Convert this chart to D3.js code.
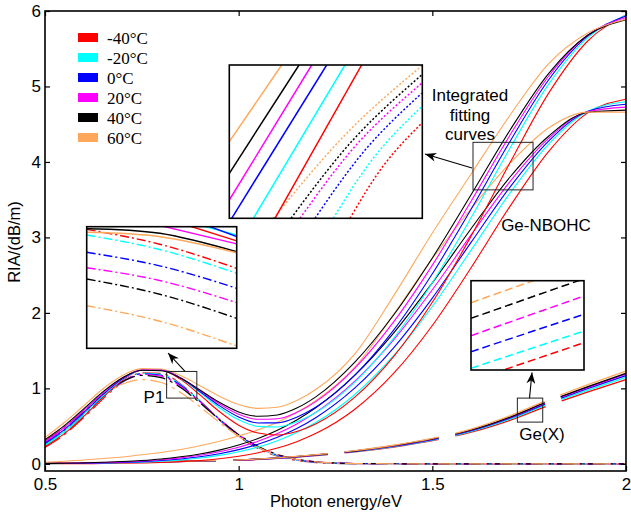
<!DOCTYPE html>
<html><head><meta charset="utf-8">
<script src="https://cdn.jsdelivr.net/npm/d3@7"></script>
<style>body{margin:0;background:#fff}svg{display:block}</style>
</head><body>
<script>
// ---------------- data ----------------
const temps  = ["-40°C","-20°C","0°C","20°C","40°C","60°C"];
const colors = ["#ff0000","#00ffff","#0000ff","#ff00ff","#000000","#ffa85c"];
const xTicks = [0.5, 1, 1.5, 2];
const yTicks = [0, 1, 2, 3, 4, 5, 6];

// integrated fitting curves (solid)
const sumX = [0.5,0.55,0.6,0.65,0.7,0.75,0.8,0.85,0.9,0.95,1.0,1.05,1.1,1.15,1.2,1.3,1.4,1.5,1.6,1.7,1.8,1.9,2.0];
const sumY = [
 [0.228,0.400,0.628,0.883,1.107,1.239,1.242,1.119,0.913,0.693,0.512,0.408,0.382,0.428,0.531,0.883,1.420,2.140,3.017,3.985,4.909,5.596,5.946],
 [0.251,0.428,0.656,0.904,1.119,1.245,1.248,1.135,0.945,0.744,0.583,0.496,0.489,0.556,0.683,1.083,1.662,2.400,3.261,4.177,5.027,5.641,5.944],
 [0.273,0.454,0.680,0.921,1.127,1.244,1.245,1.137,0.959,0.771,0.621,0.542,0.543,0.618,0.753,1.175,1.771,2.518,3.373,4.268,5.086,5.663,5.934],
 [0.298,0.482,0.707,0.941,1.137,1.246,1.244,1.139,0.971,0.796,0.657,0.590,0.598,0.682,0.827,1.267,1.880,2.633,3.479,4.351,5.135,5.675,5.914],
 [0.321,0.507,0.729,0.956,1.140,1.240,1.234,1.136,0.978,0.815,0.688,0.631,0.648,0.739,0.891,1.348,1.972,2.728,3.565,4.417,5.171,5.676,5.886],
 [0.350,0.548,0.770,0.995,1.170,1.262,1.256,1.170,1.036,0.896,0.786,0.735,0.750,0.839,0.988,1.458,2.226,3.058,3.841,4.616,5.301,5.706,5.890]
];
// Ge-NBOHC component (solid)
const nbohcY = [
 [0.001,0.001,0.002,0.004,0.007,0.011,0.018,0.029,0.044,0.067,0.100,0.146,0.209,0.294,0.404,0.723,1.197,1.833,2.598,3.408,4.137,4.647,4.830],
 [0.002,0.004,0.006,0.009,0.015,0.023,0.035,0.053,0.078,0.112,0.160,0.223,0.307,0.414,0.550,0.919,1.433,2.085,2.831,3.585,4.234,4.667,4.798],
 [0.003,0.005,0.008,0.012,0.019,0.029,0.044,0.065,0.094,0.134,0.188,0.259,0.352,0.469,0.615,1.006,1.537,2.196,2.934,3.663,4.277,4.668,4.764],
 [0.004,0.007,0.010,0.016,0.025,0.037,0.055,0.079,0.113,0.159,0.220,0.300,0.401,0.528,0.685,1.096,1.642,2.306,3.033,3.737,4.313,4.665,4.726],
 [0.005,0.008,0.013,0.020,0.030,0.044,0.064,0.093,0.131,0.182,0.249,0.336,0.445,0.581,0.746,1.174,1.732,2.398,3.115,3.797,4.341,4.656,4.686],
 [0.020,0.035,0.050,0.070,0.090,0.120,0.150,0.190,0.240,0.300,0.370,0.450,0.550,0.680,0.840,1.280,1.980,2.720,3.380,3.980,4.450,4.660,4.660]
];
// P1 component (dash-dot)
const p1X = [0.5,0.55,0.6,0.65,0.7,0.75,0.8,0.85,0.9,0.95,1.0,1.05,1.1,1.15,1.2,1.25,1.3,1.4,1.5,1.6,1.7,1.8,1.9,2.0];
const p1Y = [
 [0.218,0.388,0.613,0.863,1.081,1.206,1.198,1.059,0.834,0.584,0.364,0.202,0.100,0.044,0.017,0.006,0.002,0.001,0,0,0,0,0,0],
 [0.239,0.413,0.637,0.879,1.085,1.199,1.186,1.050,0.831,0.589,0.373,0.212,0.108,0.049,0.020,0.007,0.002,0.001,0,0,0,0,0,0],
 [0.260,0.437,0.658,0.892,1.088,1.192,1.174,1.040,0.828,0.593,0.382,0.221,0.115,0.054,0.023,0.009,0.003,0.001,0,0,0,0,0,0],
 [0.284,0.463,0.683,0.908,1.092,1.185,1.161,1.027,0.820,0.592,0.386,0.227,0.120,0.058,0.025,0.010,0.003,0.001,0,0,0,0,0,0],
 [0.306,0.487,0.702,0.919,1.090,1.172,1.142,1.010,0.809,0.588,0.387,0.231,0.125,0.061,0.027,0.011,0.004,0.001,0,0,0,0,0,0],
 [0.320,0.500,0.706,0.906,1.057,1.117,1.077,0.946,0.757,0.550,0.363,0.219,0.120,0.059,0.027,0.011,0.004,0.001,0,0,0,0,0,0]
];
// Ge(X) component (dashed)
const gexX = [0.5,0.6,0.7,0.8,0.9,1.0,1.1,1.2,1.3,1.4,1.5,1.6,1.7,1.8,1.9,2.0];
const gexY = [
 [0.009,0.013,0.019,0.026,0.035,0.048,0.073,0.110,0.158,0.223,0.307,0.419,0.577,0.772,0.949,1.116],
 [0.010,0.013,0.019,0.027,0.036,0.050,0.074,0.113,0.162,0.229,0.315,0.430,0.592,0.793,0.974,1.146],
 [0.010,0.014,0.020,0.027,0.037,0.051,0.076,0.115,0.166,0.234,0.322,0.439,0.605,0.809,0.995,1.170],
 [0.010,0.014,0.020,0.028,0.038,0.051,0.077,0.117,0.168,0.238,0.327,0.446,0.614,0.822,1.010,1.188],
 [0.010,0.014,0.020,0.028,0.038,0.052,0.078,0.118,0.170,0.240,0.330,0.450,0.620,0.830,1.020,1.200],
 [0.010,0.014,0.021,0.029,0.039,0.053,0.080,0.121,0.174,0.246,0.338,0.461,0.636,0.851,1.046,1.230]
];

// inset A (zoom of the "integrated fitting curves" box): [x(eV), RIA]
const insetADomainX = [1.605, 1.76], insetADomainY = [3.63, 4.26];
const insetASolid = [
 [[1.6417,3.63],[1.7113,4.26]],
 [[1.6243,3.63],[1.6979,4.26]],
 [[1.6069,3.63],[1.6832,4.26]],
 [[1.600,3.663],[1.6712,4.26]],
 [[1.600,3.775],[1.661,4.26]],
 [[1.600,3.908],[1.6471,4.26]]
];
const insetADotted = [
 [[1.7019,3.63],[1.7292,3.849],[1.7595,4.0205]],
 [[1.6885,3.63],[1.7220,3.886],[1.7595,4.0887]],
 [[1.6738,3.63],[1.7148,3.9148],[1.7595,4.1438]],
 [[1.6618,3.63],[1.7084,3.9395],[1.7595,4.1849]],
 [[1.6546,3.63],[1.7051,3.956],[1.7595,4.219]],
 [[1.6403,3.63],[1.6995,3.9806],[1.7595,4.256]]
];
// inset B (zoom of the P1 box)
const insetBDomainX = [0.814, 0.892], insetBDomainY = [0.871, 1.224];
const insetBDashDot = [
 [[0.814,1.2164],[0.853,1.1717],[0.892,1.1032]],
 [[0.814,1.1999],[0.853,1.1563],[0.892,1.0887]],
 [[0.814,1.1497],[0.853,1.109],[0.892,1.0452]],
 [[0.814,1.105],[0.853,1.0664],[0.892,1.0034]],
 [[0.814,1.0722],[0.853,1.0266],[0.892,0.9581]],
 [[0.814,0.9947],[0.853,0.9482],[0.892,0.8777]]
];
const insetBSolid = [
 [[0.864,1.232],[0.892,1.183]],
 [[0.871,1.231],[0.892,1.200]],
 [[0.874,1.233],[0.892,1.195]],
 [[0.848,1.233],[0.892,1.174]],
 [[0.814,1.2182],[0.8521,1.2048],[0.892,1.1514]],
 [[0.814,1.2077],[0.8521,1.195],[0.892,1.1485]]
];
// inset C (zoom of the Ge(X) box)
const insetCDomainX = [1.7195, 1.785], insetCDomainY = [0.553, 0.871];
const insetCDashed = [
 [[1.7195,0.514],[1.785,0.6502]],
 [[1.7195,0.5591],[1.785,0.6919]],
 [[1.7195,0.6182],[1.785,0.7514]],
 [[1.7195,0.6752],[1.785,0.8165]],
 [[1.7195,0.7371],[1.785,0.878]],
 [[1.7195,0.7927],[1.785,0.935]]
];

// ---------------- drawing ----------------
const W = 631, H = 516;
const FONT = "'Liberation Sans', Arial, Helvetica, sans-serif";
const svg = d3.select("body").append("svg").attr("width", W).attr("height", H)
  .style("font-family", FONT);

const x = d3.scaleLinear().domain([0.5, 2]).range([45, 626]);
const y = d3.scaleLinear().domain([-0.095, 6]).range([471, 11]);

const defs = svg.append("defs");
defs.append("clipPath").attr("id","plotClip").append("rect")
  .attr("x", 45).attr("y", 11).attr("width", 581).attr("height", 460);
defs.append("marker").attr("id","arrow").attr("viewBox","0 0 10 8")
  .attr("refX",10).attr("refY",4).attr("markerWidth",12).attr("markerHeight",9)
  .attr("markerUnits","userSpaceOnUse").attr("orient","auto")
  .append("path").attr("d","M0,0 L10,4 L0,8 L3,4 Z").attr("fill","#000");

const plot = svg.append("g").attr("clip-path","url(#plotClip)");

function lineFor(xs, sx, sy) {
  return d3.line().x((d,i)=>sx(xs[i])).y(d=>sy(d)).curve(d3.curveMonotoneX);
}

// P1 (dash-dot)
p1Y.forEach((ys,k)=>{
  plot.append("path").attr("d", lineFor(p1X,x,y)(ys)).attr("fill","none")
    .attr("stroke", colors[k]).attr("stroke-width",1.2)
    .attr("stroke-dasharray","18,5,3,5");
});
// Ge(X) (dashed)
gexY.forEach((ys,k)=>{
  plot.append("path").attr("d", lineFor(gexX,x,y)(ys)).attr("fill","none")
    .attr("stroke", colors[k]).attr("stroke-width",1.3)
    .attr("stroke-dasharray","95,17").attr("stroke-dashoffset",36);
});
// Ge-NBOHC (solid)
nbohcY.forEach((ys,k)=>{
  plot.append("path").attr("d", lineFor(sumX,x,y)(ys)).attr("fill","none")
    .attr("stroke", colors[k]).attr("stroke-width",1.1);
});
// integrated fits (solid)
sumY.forEach((ys,k)=>{
  plot.append("path").attr("d", lineFor(sumX,x,y)(ys)).attr("fill","none")
    .attr("stroke", colors[k]).attr("stroke-width",1.1);
});

// axes (inward ticks on all four sides)
const fmt = d3.format("");
const axB = svg.append("g").attr("transform","translate(0,471)")
  .call(d3.axisBottom(x).tickValues(xTicks).tickSizeInner(-5).tickSizeOuter(0).tickPadding(7).tickFormat(fmt));
const axT = svg.append("g").attr("transform","translate(0,11)")
  .call(d3.axisTop(x).tickValues(xTicks).tickSizeInner(-5).tickSizeOuter(0).tickFormat(""));
const axL = svg.append("g").attr("transform","translate(45,0)")
  .call(d3.axisLeft(y).tickValues(yTicks).tickSizeInner(-5).tickSizeOuter(0).tickPadding(4).tickFormat(fmt));
const axR = svg.append("g").attr("transform","translate(626,0)")
  .call(d3.axisRight(y).tickValues(yTicks).tickSizeInner(-5).tickSizeOuter(0).tickFormat(""));
[axB,axT,axL,axR].forEach(a=>{
  a.select(".domain").remove();
  a.selectAll("line").attr("stroke","#000").attr("stroke-width",1.2);
  a.selectAll("text").attr("font-family",FONT).attr("font-size",17).attr("fill","#000");
});
svg.append("rect").attr("x",45).attr("y",11).attr("width",581).attr("height",460)
  .attr("fill","none").attr("stroke","#000").attr("stroke-width",1.6);

svg.append("text").attr("x",336).attr("y",507).attr("text-anchor","middle")
  .attr("font-size",16.5).text("Photon energy/eV");
svg.append("text").attr("transform","translate(20,242) rotate(-90)").attr("text-anchor","middle")
  .attr("font-size",16.5).text("RIA/(dB/m)");

// legend
const leg = svg.append("g");
temps.forEach((t,k)=>{
  leg.append("rect").attr("x",78).attr("y",33+20*k).attr("width",20).attr("height",9)
    .attr("fill",colors[k]);
  leg.append("text").attr("x",107).attr("y",44+20*k).attr("font-size",17)
    .attr("font-family","'Liberation Serif','Times New Roman',serif").text(t);
});

// zoom boxes on the main chart
function zoomBox(dx, dy) {
  svg.append("rect").attr("x",x(dx[0])).attr("y",y(dy[1]))
    .attr("width",x(dx[1])-x(dx[0])).attr("height",y(dy[0])-y(dy[1]))
    .attr("fill","none").attr("stroke","#222").attr("stroke-width",1);
}
zoomBox(insetADomainX, insetADomainY);
zoomBox(insetBDomainX, insetBDomainY);
zoomBox(insetCDomainX, insetCDomainY);

// insets
function inset(id, rx, ry, dX, dY) {
  const sx = d3.scaleLinear().domain(dX).range(rx);
  const sy = d3.scaleLinear().domain(dY).range(ry);
  defs.append("clipPath").attr("id",id).append("rect")
    .attr("x",rx[0]).attr("y",ry[1]).attr("width",rx[1]-rx[0]).attr("height",ry[0]-ry[1]);
  const g = svg.append("g");
  g.append("rect").attr("x",rx[0]).attr("y",ry[1]).attr("width",rx[1]-rx[0]).attr("height",ry[0]-ry[1])
    .attr("fill","#fff");
  const inner = g.append("g").attr("clip-path",`url(#${id})`);
  return {g, inner, sx, sy, rx, ry};
}
function drawPts(ins, sets, dash, sw, curve) {
  const ln = d3.line().x(d=>ins.sx(d[0])).y(d=>ins.sy(d[1])).curve(curve||d3.curveMonotoneX);
  sets.forEach((pts,k)=>{
    ins.inner.append("path").attr("d", ln(pts)).attr("fill","none")
      .attr("stroke",colors[k]).attr("stroke-width",sw)
      .attr("stroke-dasharray",dash);
  });
}
function frame(ins) {
  ins.g.append("rect").attr("x",ins.rx[0]).attr("y",ins.ry[1])
    .attr("width",ins.rx[1]-ins.rx[0]).attr("height",ins.ry[0]-ins.ry[1])
    .attr("fill","none").attr("stroke","#000").attr("stroke-width",1.6);
}
const A = inset("clipA",[229.3,422.3],[218.3,65],insetADomainX,insetADomainY);
drawPts(A, insetADotted, "2,2", 1.5, d3.curveNatural);
drawPts(A, insetASolid, null, 1.5);
frame(A);
const B = inset("clipB",[86.7,236.7],[348.3,226.7],insetBDomainX,insetBDomainY);
drawPts(B, insetBDashDot, "9,3,2,3", 1.4, d3.curveNatural);
drawPts(B, insetBSolid, null, 1.4, d3.curveNatural);
frame(B);
const C = inset("clipC",[471,584],[370,280.7],insetCDomainX,insetCDomainY);
drawPts(C, insetCDashed, "8,4", 1.5);
frame(C);

// arrows
function arrow(x1,y1,x2,y2){
  svg.append("line").attr("x1",x1).attr("y1",y1).attr("x2",x2).attr("y2",y2)
    .attr("stroke","#000").attr("stroke-width",1.1).attr("marker-end","url(#arrow)");
}
arrow(x(insetADomainX[0])-1, 168, 425, 154);
arrow(185, y(insetBDomainY[1]), 168, 353);
arrow(529.5, y(insetCDomainY[1]), 532, 372.5);

// annotation text
const ann = [["Integrated",470,101],["fitting",470,121],["curves",470,140],
             ["Ge-NBOHC",546,231],["Ge(X)",542,440],["P1",154,403]];
ann.forEach(a=>{
  svg.append("text").attr("x",a[1]).attr("y",a[2]).attr("text-anchor","middle")
    .attr("font-size",17).text(a[0]);
});
</script>
</body></html>
